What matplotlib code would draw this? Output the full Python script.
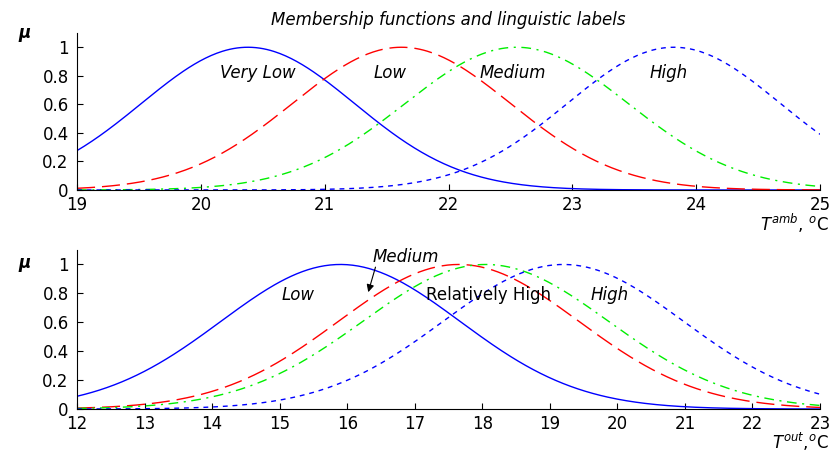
import numpy as np
import matplotlib
matplotlib.use("Agg")
import matplotlib.pyplot as plt

plt.rcParams['font.family'] = ['DejaVu Sans']
plt.rcParams['mathtext.fontset'] = 'dejavusans'

# ambient temperature membership functions (gaussian: center, sigma)
ambLabels = ['Very Low', 'Low', 'Medium', 'High']
ambCenters = [20.38, 21.62, 22.55, 23.82]
ambSigmas = [0.86, 0.88, 0.90, 0.86]
ambLabelX = [20.46, 21.53, 22.52, 23.78]
ambTicks = [19, 20, 21, 22, 23, 24, 25]

# outside temperature membership functions
outLabels = ['Low', 'Medium', 'Relatively High', 'High']
outCenters = [15.9, 17.65, 18.05, 19.2]
outSigmas = [1.77, 1.78, 1.82, 1.78]
outLabelX = [15.27, 16.86, 18.09, 19.88]
outTicks = [12, 13, 14, 15, 16, 17, 18, 19, 20, 21, 22, 23]

yTicks = [0, 0.2, 0.4, 0.6, 0.8, 1]
yTickLabels = ['0', '0.2', '0.4', '0.6', '0.8', '1']

#line styles, same order for both panels
styles = [
    dict(color='#0000ff', linestyle='-'),
    dict(color='#ff0000', linestyle=(0, (13, 5))),
    dict(color='#00ee00', linestyle=(0, (7, 4, 1.5, 4))),
    dict(color='#0000ff', linestyle=(0, (3.5, 3.5))),
]

FS = 12


def drawPanel(ax, ticks, centers, sigmas):
    x = np.linspace(ticks[0], ticks[-1], 400)
    for c, s, st in zip(centers, sigmas, styles):
        ax.plot(x, np.exp(-(x - c) ** 2 / (2 * s ** 2)), lw=1.0, **st)
    ax.set_xlim(ticks[0], ticks[-1])
    ax.set_ylim(0, 1.1)
    ax.set_xticks(ticks)
    ax.set_yticks(yTicks)
    ax.set_yticklabels(yTickLabels)
    ax.spines['top'].set_visible(False)
    ax.spines['right'].set_visible(False)
    ax.tick_params(direction='in', labelsize=FS, length=4)
    ax.tick_params(axis='x', pad=4)
    ax.tick_params(axis='y', pad=6)


fig = plt.figure(figsize=(8.31, 4.53), dpi=100)
ax1 = fig.add_axes([0.0927, 0.5806, 0.8941, 0.3466])
ax2 = fig.add_axes([0.0927, 0.0971, 0.8941, 0.3510])

drawPanel(ax1, ambTicks, ambCenters, ambSigmas)
drawPanel(ax2, outTicks, outCenters, outSigmas)

ax1.set_title('Membership functions and linguistic labels', fontsize=FS,
              style='italic', pad=6)

for lab, lx in zip(ambLabels, ambLabelX):
    ax1.text(lx, 0.82, lab, fontsize=FS, style='italic', ha='center', va='center')

ax2.text(outLabelX[0], 0.79, outLabels[0], fontsize=FS, style='italic', ha='center', va='center')
ax2.text(outLabelX[1], 1.055, outLabels[1], fontsize=FS, style='italic', ha='center', va='center')
ax2.text(outLabelX[2], 0.79, outLabels[2], fontsize=FS, ha='center', va='center')
ax2.text(outLabelX[3], 0.79, outLabels[3], fontsize=FS, style='italic', ha='center', va='center')
ax2.annotate('', xy=(16.3, 0.79), xytext=(16.43, 1.0),
             arrowprops=dict(arrowstyle='-|>', color='black', lw=0.8, mutation_scale=11))

fig.text(0.022, 0.927, 'μ', fontsize=FS, fontweight='bold', style='italic',
         ha='left', va='center')
fig.text(0.022, 0.42, 'μ', fontsize=FS, fontweight='bold', style='italic',
         ha='left', va='center')

fig.text(0.997, 0.532, r'$T^{amb}$, $^o$C', fontsize=FS, ha='right', va='top')
fig.text(0.997, 0.049, r'$T^{out}$,$^o$C', fontsize=FS, ha='right', va='top')

plt.savefig('out.png', dpi=100)
